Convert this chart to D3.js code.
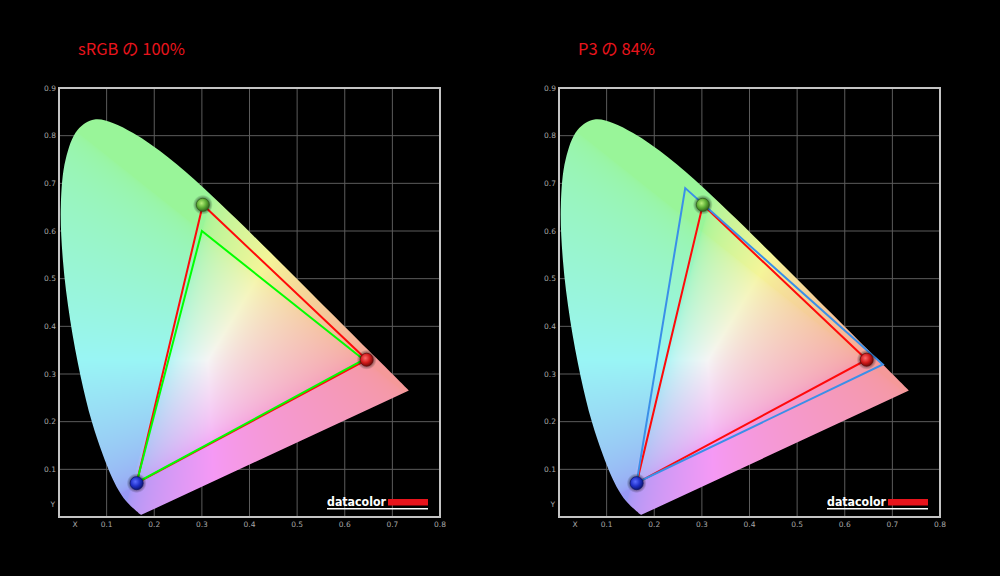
<!DOCTYPE html>
<html>
<head>
<meta charset="utf-8">
<script src="https://cdn.jsdelivr.net/npm/d3@7"></script>
<style>
html,body{margin:0;padding:0;background:#000;}
svg{display:block;}
</style>
</head>
<body>
<svg id="chart" width="1000" height="576"></svg>
<script>
// CIE 1931 2° spectral locus (380–700 nm, 5 nm steps)
const locusX = [0.1741,0.1740,0.1738,0.1736,0.1733,0.1730,0.1726,0.1721,0.1714,0.1703,0.1689,0.1669,0.1644,0.1611,0.1566,0.1510,0.1440,0.1355,0.1241,0.1096,0.0913,0.0687,0.0454,0.0235,0.0082,0.0039,0.0139,0.0389,0.0743,0.1142,0.1547,0.1929,0.2296,0.2658,0.3016,0.3373,0.3731,0.4087,0.4441,0.4788,0.5125,0.5448,0.5752,0.6029,0.6270,0.6482,0.6658,0.6801,0.6915,0.7006,0.7079,0.7140,0.7190,0.7230,0.7260,0.7283,0.7300,0.7311,0.7320,0.7327,0.7334,0.7340,0.7344,0.7346,0.7347];
const locusY = [0.0050,0.0050,0.0049,0.0049,0.0048,0.0048,0.0048,0.0048,0.0051,0.0058,0.0069,0.0086,0.0109,0.0138,0.0177,0.0227,0.0297,0.0399,0.0578,0.0868,0.1327,0.2007,0.2950,0.4127,0.5384,0.6548,0.7502,0.8120,0.8338,0.8262,0.8059,0.7816,0.7543,0.7243,0.6923,0.6589,0.6245,0.5896,0.5547,0.5202,0.4866,0.4544,0.4242,0.3965,0.3725,0.3514,0.3340,0.3197,0.3083,0.2993,0.2920,0.2859,0.2809,0.2770,0.2740,0.2717,0.2700,0.2689,0.2680,0.2673,0.2666,0.2660,0.2656,0.2654,0.2653];

const xTicks = [0.1,0.2,0.3,0.4,0.5,0.6,0.7,0.8];
const yTicks = [0.1,0.2,0.3,0.4,0.5,0.6,0.7,0.8,0.9];
const xGrid = [0.1,0.2,0.3,0.4,0.5,0.6,0.7];
const yGrid = [0.1,0.2,0.3,0.4,0.5,0.6,0.7,0.8];

// measured primaries (R, G, B)
const measuredX = [0.646, 0.302, 0.163];
const measuredY = [0.330, 0.655, 0.071];
// reference gamuts (R, G, B)
const srgbX = [0.640, 0.300, 0.163];
const srgbY = [0.330, 0.600, 0.072];
const p3X = [0.680, 0.265, 0.163];
const p3Y = [0.320, 0.690, 0.072];

const titles = ["sRGB の 100%", "P3 の 84%"];
const panelOffsets = [0, 500];
const refColors = ["#00ff00", "#3a8fe8"];

const svg = d3.select("#chart");
const defs = svg.append("defs");

// marker gradients
const markerStyles = [
  {id:"gR", c0:"#ff6a6a", c1:"#d21a1a", c2:"#6a0808"},
  {id:"gG", c0:"#b8f07a", c1:"#5cae34", c2:"#2f5e1a"},
  {id:"gB", c0:"#5a6cff", c1:"#2030c8", c2:"#0c1470"}
];
markerStyles.forEach(m => {
  const rg = defs.append("radialGradient").attr("id", m.id)
    .attr("cx","40%").attr("cy","38%").attr("r","65%");
  rg.append("stop").attr("offset","0%").attr("stop-color", m.c0);
  rg.append("stop").attr("offset","55%").attr("stop-color", m.c1);
  rg.append("stop").attr("offset","100%").attr("stop-color", m.c2);
});
const shadow = defs.append("radialGradient").attr("id","shadow");
shadow.append("stop").attr("offset","55%").attr("stop-color","#000").attr("stop-opacity",0.55);
shadow.append("stop").attr("offset","100%").attr("stop-color","#000").attr("stop-opacity",0);

// colour of a chromaticity point (pastel version of CIE diagram)
function xyColor(x, y) {
  const X = x / y, Y = 1, Z = (1 - x - y) / y;
  let r = 3.2406*X - 1.5372*Y - 0.4986*Z;
  let g = -0.9689*X + 1.8758*Y + 0.0415*Z;
  let b = 0.0557*X - 0.2040*Y + 1.0570*Z;
  r = Math.max(r,0); g = Math.max(g,0); b = Math.max(b,0);
  const m = Math.max(r,g,b) || 1;
  r = Math.pow(r/m, 1/2.2); g = Math.pow(g/m, 1/2.2); b = Math.pow(b/m, 1/2.2);
  const a = 0.6, k = 0.36;
  return [255*(a+k*r), 255*(a+k*g), 255*(a+k*b)];
}

function drawPanel(i) {
  const ox = panelOffsets[i];
  const xs = d3.scaleLinear().domain([0,0.8]).range([59+ox, 440+ox]);
  const ys = d3.scaleLinear().domain([0,0.9]).range([517, 88]);
  const g = svg.append("g");

  // title
  g.append("text").attr("x", 78+ox).attr("y", 55)
    .attr("fill","#e8141c").attr("font-family","'Noto Sans CJK JP','Noto Sans',sans-serif")
    .attr("font-size",16.5).text(titles[i]);

  // grid
  g.selectAll(".vg").data(xGrid).join("line")
    .attr("x1", d=>xs(d)).attr("x2", d=>xs(d)).attr("y1", ys(0)).attr("y2", ys(0.9))
    .attr("stroke","#5c5c5c").attr("stroke-width",1);
  g.selectAll(".hg").data(yGrid).join("line")
    .attr("x1", xs(0)).attr("x2", xs(0.8)).attr("y1", d=>ys(d)).attr("y2", d=>ys(d))
    .attr("stroke","#5c5c5c").attr("stroke-width",1);

  // locus fill
  const pts = locusX.map((x,j)=>[xs(x), ys(locusY[j])]);
  const clipId = "clip"+i;
  defs.append("clipPath").attr("id", clipId)
    .append("path").attr("d", d3.line().curve(d3.curveCatmullRom)(pts) + "Z");

  const x0 = Math.floor(xs(0)), x1 = Math.ceil(xs(0.8));
  const y0 = Math.floor(ys(0.9)), y1 = Math.ceil(ys(0));
  const W = x1 - x0, H = y1 - y0;
  const cv = document.createElement("canvas");
  cv.width = W; cv.height = H;
  const ctx = cv.getContext("2d");
  const img = ctx.createImageData(W, H);
  for (let py = 0; py < H; py++) {
    const cy = ys.invert(y0 + py + 0.5);
    for (let px = 0; px < W; px++) {
      const cx = xs.invert(x0 + px + 0.5);
      const idx = (py*W + px)*4;
      if (cy <= 0.001) { img.data[idx+3]=0; continue; }
      const c = xyColor(cx, cy);
      img.data[idx]=c[0]; img.data[idx+1]=c[1]; img.data[idx+2]=c[2]; img.data[idx+3]=255;
    }
  }
  ctx.putImageData(img, 0, 0);
  g.append("image").attr("href", cv.toDataURL()).attr("x", x0).attr("y", y0)
    .attr("width", W).attr("height", H).attr("clip-path", `url(#${clipId})`);

  // frame
  g.append("rect").attr("x", xs(0)).attr("y", ys(0.9))
    .attr("width", xs(0.8)-xs(0)).attr("height", ys(0)-ys(0.9))
    .attr("fill","none").attr("stroke","#c4c4c4").attr("stroke-width",2);

  // tick labels
  const lab = {fill:"#a8a8a8", "font-family":"'DejaVu Sans',sans-serif", "font-size":7.5};
  const xl = g.selectAll(".xl").data(xTicks).join("text")
    .attr("x", d=>xs(d)).attr("y", 527).attr("text-anchor","middle").text(d=>d3.format(".1f")(d));
  const yl = g.selectAll(".yl").data(yTicks).join("text")
    .attr("x", xs(0)-3).attr("y", d=>ys(d)+2.8).attr("text-anchor","end").text(d=>d3.format(".1f")(d));
  const xL = g.append("text").attr("x", xs(0.034)).attr("y", 527).attr("text-anchor","middle").text("X");
  const yL = g.append("text").attr("x", xs(0)-4).attr("y", ys(0.026)+2.8).attr("text-anchor","end").text("Y");
  [xl, yl, xL, yL].forEach(s => Object.entries(lab).forEach(([k,v]) => s.attr(k, v)));

  // triangles
  const tri = (X, Y) => d3.line()(X.map((x,j)=>[xs(x), ys(Y[j])])) + "Z";
  g.append("path").attr("d", tri(measuredX, measuredY))
    .attr("fill","none").attr("stroke","#ff0a0a").attr("stroke-width",2).attr("stroke-linejoin","miter");
  const rx = i === 0 ? srgbX : p3X, ry = i === 0 ? srgbY : p3Y;
  g.append("path").attr("d", tri(rx, ry))
    .attr("fill","none").attr("stroke", refColors[i]).attr("stroke-width",2).attr("stroke-linejoin","miter");

  // markers
  const mk = g.selectAll(".mk").data(measuredX.map((x,j)=>({x, y:measuredY[j], id:markerStyles[j].id, edge:markerStyles[j].c2})))
    .join("g").attr("transform", d=>`translate(${xs(d.x)},${ys(d.y)})`);
  mk.append("circle").attr("r", 10).attr("fill","url(#shadow)");
  mk.append("circle").attr("r", 6.5).attr("fill", d=>`url(#${d.id})`)
    .attr("stroke", d=>d.edge).attr("stroke-opacity",0.7).attr("stroke-width",1);

  // datacolor logo
  const lg = g.append("g");
  lg.append("text").attr("x", 327+ox).attr("y", 506).attr("fill","#ffffff")
    .attr("font-family","'DejaVu Sans',sans-serif").attr("font-weight","bold").attr("font-size",12.5)
    .attr("textLength", 59).attr("lengthAdjust","spacingAndGlyphs").text("datacolor");
  lg.append("rect").attr("x", 388+ox).attr("y", 499).attr("width", 40).attr("height", 6.5).attr("fill","#e8141c");
  lg.append("rect").attr("x", 327+ox).attr("y", 508).attr("width", 101).attr("height", 1.5).attr("fill","#ffffff");
}

[0,1].forEach(drawPanel);
</script>
</body>
</html>
